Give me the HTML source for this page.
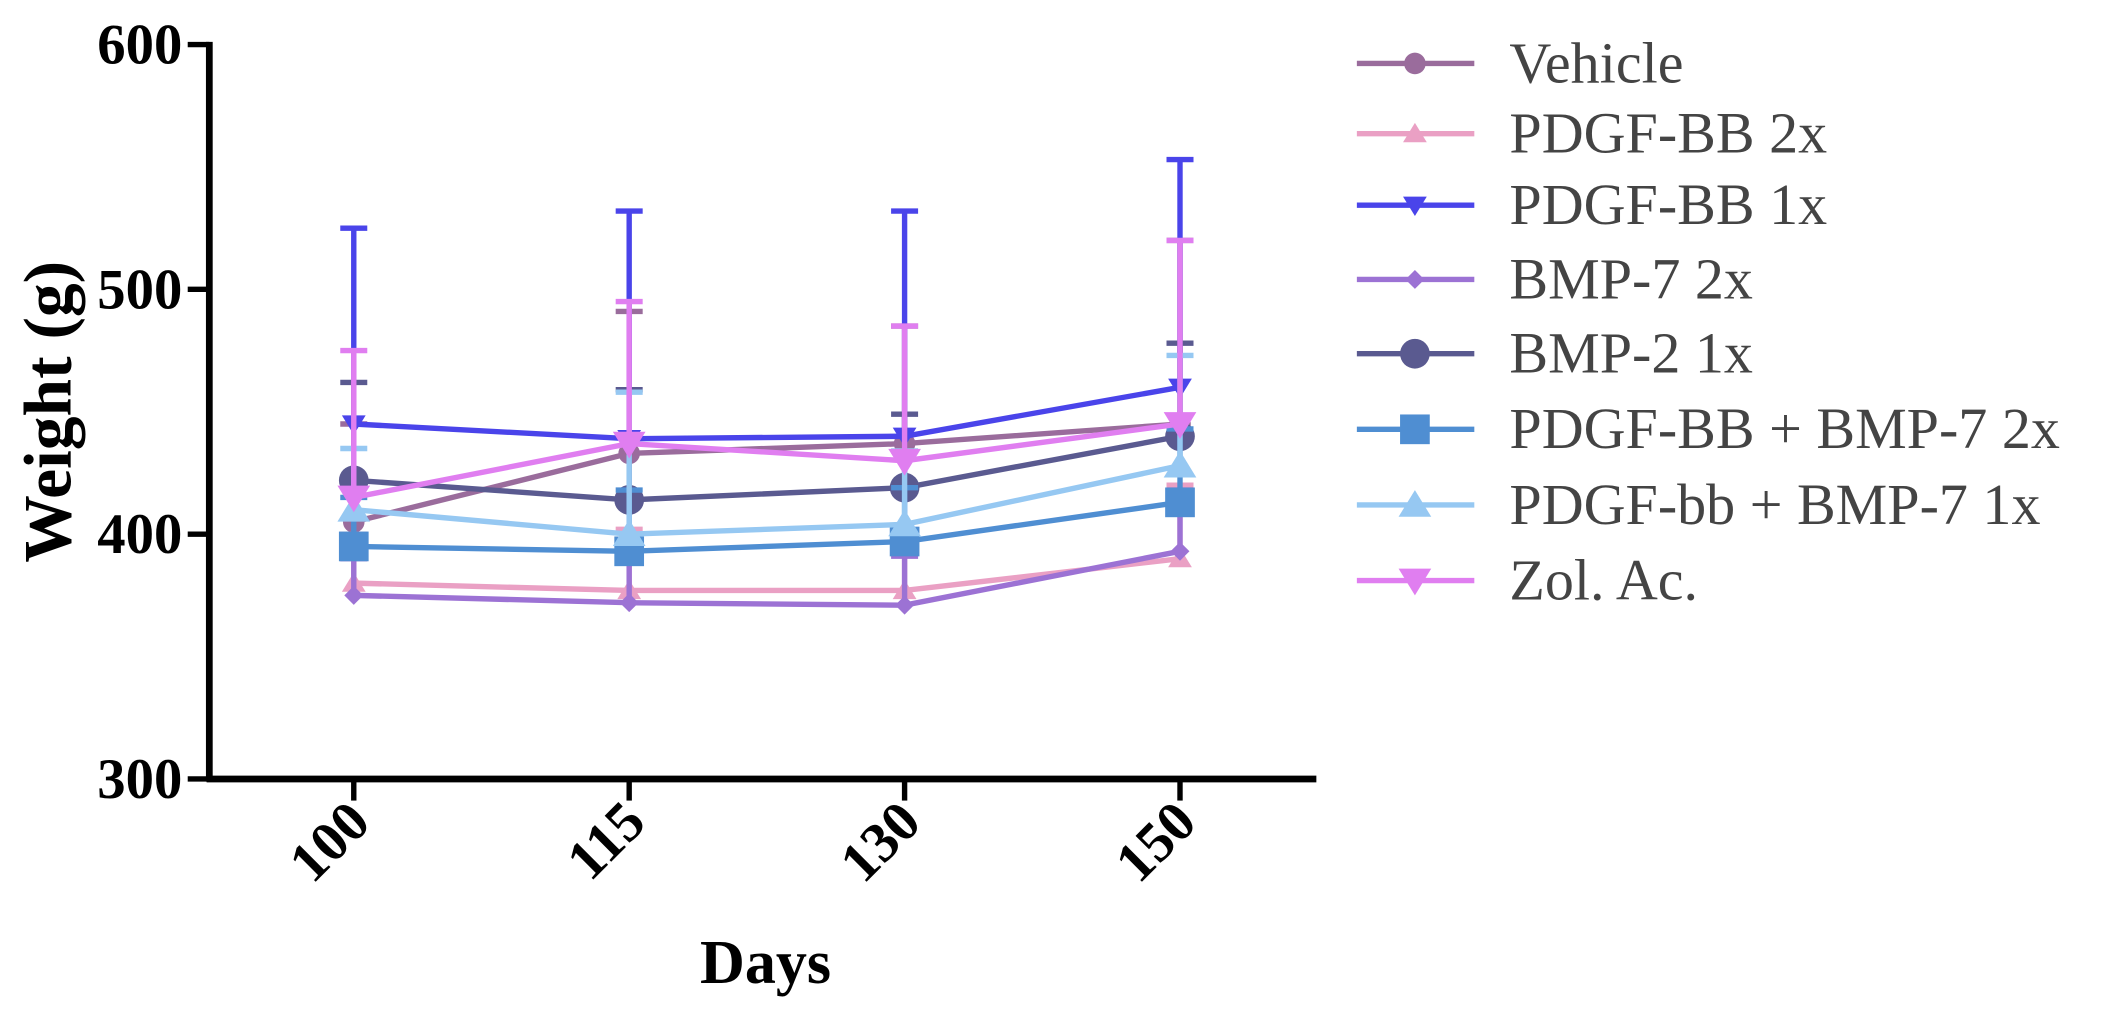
<!DOCTYPE html>
<html><head><meta charset="utf-8"><style>
html,body{margin:0;padding:0;background:#fff;}
svg{display:block;font-family:"Liberation Serif",serif;}
</style></head><body>
<svg id="chart" width="2117" height="1012" viewBox="0 0 1568 749.6">
<g id="plot"></g>
<g id="axes"></g>
<g id="legend"></g>
</svg>
<script>
const categories = ["100","115","130","150"];
const yTicks = [300,400,500,600];
const seriesNames = ["Vehicle","PDGF-BB 2x","PDGF-BB 1x","BMP-7 2x","BMP-2 1x","PDGF-BB + BMP-7 2x","PDGF-bb + BMP-7 1x","Zol. Ac."];
const vehicle = [405,433,437,445];
const pdgf2x = [380,377,377,390];
const pdgf1x = [445,439,440,460];
const bmp7_2x = [375,372,371,393];
const bmp2_1x = [422,414,419,440];
const combo2x = [395,393,397,413];
const combo1x = [410,400,404,428];
const zol = [415,437,430,445];
const errVehicle = [40,58,48,75];
const errPdgf2x = [20,25,20,30];
const errPdgf1x = [80,93,92,93];
const errBmp7 = [15,20,20,25];
const errBmp2 = [40,45,30,38];
const errCombo2x = [20,25,22,30];
const errCombo1x = [25,58,30,45];
const errZol = [60,58,55,75];

const values=[vehicle,pdgf2x,pdgf1x,bmp7_2x,bmp2_1x,combo2x,combo1x,zol];
const errs=[errVehicle,errPdgf2x,errPdgf1x,errBmp7,errBmp2,errCombo2x,errCombo1x,errZol];
const colors=["#9a6c9c","#eaa0c4","#4a44ea","#9c72d4","#5a5a90","#4f8ed2","#96c8f2","#e07ef0"];
const markers=["circle","tri","itri","diamond","circle","square","tri","itri"];
const sizes=[8,8,8,7,11,11,11,11];
const NS="http://www.w3.org/2000/svg";
const x0=155,x1=975,yTop=33,yBot=577;
function xs(i){return 262+i*204;}
function ys(v){return yBot-(v-300)/300*(yBot-yTop);}
function mk(tag,attrs,parent){const e=document.createElementNS(NS,tag);for(const k in attrs)e.setAttribute(k,attrs[k]);parent.appendChild(e);return e;}
function marker(type,cx,cy,r,col,parent){
 let e;
 if(type==="circle")e=mk("circle",{cx,cy,r,fill:col},parent);
 else if(type==="square")e=mk("rect",{x:cx-r,y:cy-r,width:2*r,height:2*r,fill:col},parent);
 else if(type==="tri")e=mk("polygon",{points:`${cx},${cy-r} ${cx-r*1.1},${cy+r*0.8} ${cx+r*1.1},${cy+r*0.8}`,fill:col},parent);
 else if(type==="itri")e=mk("polygon",{points:`${cx},${cy+r} ${cx-r*1.1},${cy-r*0.8} ${cx+r*1.1},${cy-r*0.8}`,fill:col},parent);
 else e=mk("polygon",{points:`${cx},${cy-r} ${cx+r},${cy} ${cx},${cy+r} ${cx-r},${cy}`,fill:col},parent);
 return e;
}
const plot=document.getElementById("plot");
values.forEach((vals,s)=>{
 const g=mk("g",{},plot);
 
 
 vals.forEach((v,i)=>{
  const top=ys(v+errs[s][i]);
  const eb=mk("path",{d:`M${xs(i)},${ys(v)}V${top}M${xs(i)-10},${top}H${xs(i)+10}`,stroke:colors[s],"stroke-width":4,fill:"none"},g);
  
  
 });
 const ln=mk("polyline",{points:vals.map((v,i)=>xs(i)+","+ys(v)).join(" "),stroke:colors[s],"stroke-width":4,fill:"none"},g);
 
 
 vals.forEach((v,i)=>{
  const m=marker(markers[s],xs(i),ys(v),sizes[s],colors[s],g);
  
  
 });
});
const axes=document.getElementById("axes");
mk("line",{x1:x0,y1:yTop-2,x2:x0,y2:yBot+2,stroke:"#000","stroke-width":5},axes);
mk("line",{x1:x0-2,y1:yBot,x2:x1,y2:yBot,stroke:"#000","stroke-width":5},axes);
yTicks.forEach(t=>{
 mk("line",{x1:x0-16,y1:ys(t),x2:x0,y2:ys(t),stroke:"#000","stroke-width":4},axes);
 const tx=mk("text",{x:x0-20,y:ys(t)+14,"text-anchor":"end","font-size":42,"font-weight":"bold"},axes);
 tx.textContent=t;
 
 
});
categories.forEach((c,i)=>{
 mk("line",{x1:xs(i),y1:yBot,x2:xs(i),y2:yBot+16,stroke:"#000","stroke-width":4},axes);
 const tx=mk("text",{x:xs(i)+14,y:yBot+34,"text-anchor":"end","font-size":42,"font-weight":"bold",transform:`rotate(-45 ${xs(i)+14} ${yBot+34})`},axes);
 tx.textContent=c;
 
 
});
const yt=mk("text",{x:52,y:305,"text-anchor":"middle","font-size":50,"font-weight":"bold",transform:"rotate(-90 52 305)"},axes);
yt.textContent="Weight (g)";


const xt=mk("text",{x:567,y:728,"text-anchor":"middle","font-size":46,"font-weight":"bold"},axes);
xt.textContent="Days";


const legend=document.getElementById("legend");
const legY=[47,99,152,207,262,318,374,430];
seriesNames.forEach((n,s)=>{
 const g=mk("g",{},legend);
 
 
 mk("line",{x1:1005,y1:legY[s],x2:1092,y2:legY[s],stroke:colors[s],"stroke-width":4},g);
 marker(markers[s],1048,legY[s],sizes[s],colors[s],g);
 const tx=mk("text",{x:1118,y:legY[s]+14,"font-size":43,fill:"#444",textLength:0},g);
 tx.removeAttribute("textLength");
 tx.textContent=n;
});
</script>
</body></html>
